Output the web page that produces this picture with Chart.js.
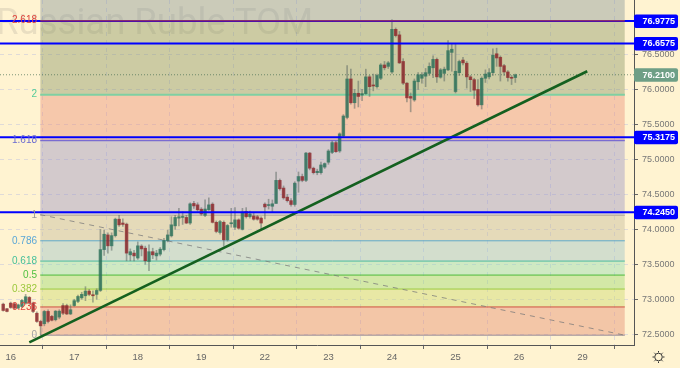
<!DOCTYPE html>
<html><head><meta charset="utf-8">
<style>html,body{margin:0;padding:0;background:#FFF3D1;overflow:hidden}canvas{display:block}</style>
<script src="https://cdn.jsdelivr.net/npm/chart.js@4"></script></head>
<body><canvas id="c" width="680" height="368"></canvas>
<script>
const firstSlot = -2;
const opens = [72.93,72.864,72.945,72.935,72.874,72.897,72.945,73.026,72.945,72.80,72.683,72.65,72.826,72.755,72.707,72.745,72.91,72.91,72.79,72.91,72.97,73.02,73.05,73.117,73.065,73.07,73.126,73.71,73.92,73.764,73.91,74.145,74.09,74.074,73.635,73.66,73.59,73.76,73.73,73.54,73.68,73.62,73.645,73.71,73.84,73.907,74.05,74.16,74.17,74.17,74.09,74.37,74.35,74.288,74.2,74.28,74.36,74.10,73.955,74.10,73.85,74.08,74.03,74.135,74.0,74.255,74.18,74.19,74.18,74.16,74.36,74.34,74.33,74.37,74.70,74.59,74.46,74.41,74.355,74.69,74.755,74.70,75.09,74.874,74.81,74.81,74.89,74.96,75.1,75.24,75.12,75.336,75.60,76.15,75.81,75.945,75.92,75.94,76.18,76.06,76.04,76.16,76.35,76.33,76.25,76.86,76.78,76.40,76.09,75.90,75.85,76.11,76.16,76.19,76.23,76.31,76.43,76.175,76.23,76.28,76.53,75.97,76.24,76.42,76.375,76.18,76.14,76.0,75.78,76.16,76.18,76.24,76.51,76.46,76.34,76.25,76.17,76.17];
const highs = [72.945,72.87,72.96,72.95,72.93,73.0,73.07,73.04,72.96,72.82,72.70,72.84,72.85,72.77,72.84,72.85,72.94,72.93,72.92,73.0,73.06,73.1,73.18,73.14,73.12,73.15,74.0,73.99,73.95,73.95,74.16,74.2,74.15,74.09,73.72,73.7,73.82,73.78,73.76,73.78,73.73,73.7,73.74,73.87,73.99,74.18,74.2,74.3,74.25,74.2,74.38,74.40,74.38,74.31,74.42,74.45,74.38,74.12,74.13,74.12,74.07,74.30,74.31,74.15,74.3,74.31,74.26,74.23,74.2,74.18,74.38,74.43,74.42,74.82,74.72,74.62,74.5,74.44,74.68,74.82,74.79,75.1,75.1,74.89,74.86,74.96,74.95,75.14,75.26,75.26,75.38,75.64,76.34,76.29,76.0,76.12,76.0,76.29,76.2,76.22,76.22,76.37,76.4,76.4,77.0,76.88,76.83,76.44,76.1,75.95,76.15,76.24,76.24,76.3,76.38,76.48,76.45,76.3,76.32,76.7,76.65,76.66,76.42,76.46,76.4,76.2,76.16,76.14,76.18,76.28,76.3,76.58,76.59,76.48,76.36,76.27,76.2,76.22];
const lows = [72.83,72.82,72.87,72.86,72.865,72.88,72.93,72.93,72.81,72.67,72.49,72.62,72.66,72.69,72.69,72.72,72.78,72.78,72.78,72.90,72.95,73.0,72.98,73.05,72.96,73.0,73.11,73.626,73.66,73.70,73.89,74.04,74.04,73.55,73.55,73.55,73.57,73.62,73.5,73.41,73.58,73.56,73.62,73.69,73.82,73.89,74.0,74.05,74.07,74.08,74.07,74.3,74.26,74.2,74.18,74.27,74.09,73.95,73.93,73.76,73.83,74.03,74.0,74.0,73.99,74.16,74.16,74.13,74.13,74.01,74.15,74.29,74.24,74.37,74.56,74.43,74.39,74.33,74.33,74.53,74.68,74.68,74.85,74.79,74.78,74.79,74.87,74.93,75.08,75.1,75.1,75.32,75.58,75.79,75.73,75.75,75.84,75.93,75.9,75.98,76.02,76.14,76.28,76.3,76.23,76.75,76.37,76.07,75.82,75.68,75.83,76.0,76.09,76.04,76.2,76.17,76.1,76.16,76.12,76.27,76.26,75.95,76.2,76.35,76.02,75.97,75.87,75.76,75.72,76.1,76.15,76.2,76.33,76.12,76.2,76.12,76.07,76.1];
const closes = [72.84,72.826,72.883,72.874,72.92,72.983,73.036,72.945,72.826,72.683,72.62,72.826,72.683,72.70,72.83,72.83,72.80,72.79,72.85,72.98,73.04,73.07,73.117,73.07,73.05,73.126,73.71,73.93,73.764,73.91,74.145,74.064,74.07,73.66,73.68,73.62,73.764,73.72,73.55,73.68,73.635,73.66,73.716,73.84,73.92,74.064,74.17,74.18,74.18,74.09,74.364,74.335,74.28,74.22,74.29,74.35,74.10,73.97,74.11,73.85,74.055,74.09,74.135,74.016,74.245,74.18,74.22,74.145,74.145,74.09,74.32,74.345,74.365,74.70,74.58,74.45,74.41,74.355,74.66,74.755,74.70,75.09,74.874,74.81,74.83,74.92,74.94,75.12,75.24,75.11,75.365,75.62,76.15,75.81,75.945,75.90,75.94,76.18,76.04,76.05,76.2,76.35,76.31,76.38,76.86,76.77,76.38,76.09,75.88,75.875,76.12,76.21,76.21,76.24,76.33,76.43,76.18,76.28,76.29,76.555,76.575,76.26,76.40,76.38,76.18,76.14,75.99,75.78,76.16,76.22,76.24,76.49,76.45,76.33,76.25,76.17,76.16,76.21];

const dayTickSlots = [0,17,34,51,68,85,102,119,136,153];
const dayTickLabels = ["16","17","18","19","22","23","24","25","26","29"];
const priceTicks = [72.5,73,73.5,74,74.5,75,75.5,76,76.5];

const fibValues = [76.98,75.925,75.27,74.2,73.836,73.546,73.346,73.146,72.89,72.486];
const fibLabels = ["2.618","2","1.618","1","0.786","0.618","0.5","0.382","0.236","0"];
const fibLineColors = ["#C62828","#7FD0A2","#7A6CD0","#B8AD9A","#5FA9CB","#4DB89F","#4DBB3A","#9CCB40","#CF5040","#9A8F9A"];
const fibTextColors = ["#E0443C","#55CC99","#6A6AD0","#9A9A9A","#5BA7D6","#45BF9A","#50C040","#9CC83C","#E0443C","#A0A0A0"];
const fibLineWidths = [1,2,1.5,1,1,1,1,1,1,1];
const bandColors = ["rgba(125,143,149,.4)","rgba(127,143,94,.4)","rgba(232,136,114,.4)","rgba(145,140,197,.4)","rgba(190,181,151,.4)","rgba(145,190,201,.4)","rgba(135,218,176,.4)","rgba(145,215,106,.4)","rgba(197,215,99,.4)","rgba(225,131,104,.4)"];
const fibStartSlot = 7.9, fibEndSlot = 164.3;

const blueLevels = [76.9775,76.6575,75.3175,74.245];
const blueLabels = ["76.9775","76.6575","75.3175","74.2450"];
const lastPrice = 76.21;
const lastLabel = "76.2100";
const trendX = [4.98,154.25];
const trendY = [72.383,76.26];
const diagX = [7.9,164.3];
const diagY = [74.21,72.486];
const xMin = -2.86, xMax = 166.75, yMin = 72.346, yMax = 77.279;
const watermark = "Russian Ruble TOM";
const FONT = '"Liberation Sans", Arial, sans-serif';

const slots = opens.map((_, i) => i + firstSlot);
const ds = [];
function line(xs, ys, o) {
  return Object.assign({type:'line', data: xs.map((x,i)=>({x, y: ys[i]})), pointRadius:0, tension:0, fill:false, borderWidth:1}, o);
}
fibValues.forEach((v,i) => {
  const target = i === 0 ? yMax : fibValues[i-1];
  ds.push(line([fibStartSlot,fibEndSlot],[v,v],{
    borderColor: fibLineColors[i], borderWidth: fibLineWidths[i],
    backgroundColor: bandColors[i], fill:{target:{value:target}}, order: i===0 ? 1 : 10
  }));
});
ds.push(line(diagX,diagY,{borderColor:'rgba(120,120,120,.75)',borderDash:[5,5],order:9}));
ds.push(line([xMin,xMax],[lastPrice,lastPrice],{borderColor:'rgba(70,110,80,.7)',borderDash:[1,2],order:8}));
ds.push({type:'bar',data:slots.map((x,i)=>({x,y:[lows[i],highs[i]]})),barThickness:1,grouped:false,
  backgroundColor:'rgba(85,100,95,.5)',order:6});
ds.push({type:'bar',data:slots.map((x,i)=>({x,y:[opens[i],closes[i]]})),barThickness:2.8,grouped:false,minBarLength:1,
  backgroundColor:slots.map((_,i)=>closes[i]>=opens[i]?'rgba(40,112,88,.76)':'rgba(140,30,35,.76)'),order:5});
ds.push(line(trendX,trendY,{borderColor:'#14601F',borderWidth:2.6,order:3}));
blueLevels.forEach(v=>ds.push(line([xMin,xMax],[v,v],{borderColor:'#0000FF',borderWidth:2,order:2})));

const overlay = {
  id:'overlay',
  beforeDatasetsDraw(ch){
    const c=ch.ctx; c.save();
    c.font='36.5px Roboto, '+FONT; c.fillStyle='rgba(110,110,110,.15)'; c.textBaseline='alphabetic'; c.textAlign='right';
    c.fillText(watermark,313,34);
    c.restore();
  },
  afterDatasetsDraw(ch){
    const c=ch.ctx, y=ch.scales.y; c.save();
    c.textBaseline='middle'; c.textAlign='right'; c.font='10px '+FONT;
    fibLabels.forEach((t,i)=>{c.fillStyle=fibTextColors[i];c.fillText(t,37,y.getPixelForValue(fibValues[i])-(i===0?1:0));});
    function tag(v,t,col){
      const py=y.getPixelForValue(v);
      c.fillStyle=col; c.beginPath(); c.roundRect(634,py-6.5,44,13.5,2); c.fill();
      c.fillStyle='#fff'; c.textAlign='left'; c.font='bold 9px '+FONT; c.fillText(t,642.5,py+.5);
    }
    blueLevels.forEach((v,i)=>tag(v,blueLabels[i],'#0000FF'));
    tag(lastPrice,lastLabel,'#6E9F86');
    // settings icon
    c.strokeStyle='#333'; c.lineWidth=1;
    c.beginPath(); c.arc(658.5,357,3.8,0,Math.PI*2); c.stroke();
    for(let a=0;a<8;a++){const t=a*Math.PI/4;c.beginPath();c.moveTo(658.5+Math.cos(t)*4.5,357+Math.sin(t)*4.5);c.lineTo(658.5+Math.cos(t)*6,357+Math.sin(t)*6);c.stroke();}
    c.restore();
  }
};

new Chart(document.getElementById('c'),{
  data:{datasets:ds},
  plugins:[overlay],
  options:{
    responsive:false,animation:false,
    layout:{padding:0},
    plugins:{legend:{display:false},title:{display:false},tooltip:{enabled:false}},
    scales:{
      x:{type:'linear',min:xMin,max:xMax,offset:false,
        afterBuildTicks(s){s.ticks=dayTickSlots.map(v=>({value:v}));},
        afterFit(s){s.height=23;s.paddingLeft=0;s.paddingRight=0;},
        grid:{color:'rgba(170,180,230,.38)',tickColor:'#666',tickLength:4,tickBorderDash:[],drawOnChartArea:true},
        border:{color:'#555',width:1,dash:[4,4]},
        ticks:{autoSkip:false,maxRotation:0,padding:3,color:'#666',font:{family:FONT,size:9.5},
          callback(v){const i=dayTickSlots.indexOf(v);return i<0?'':dayTickLabels[i];}}
      },
      y:{type:'linear',position:'right',min:yMin,max:yMax,
        afterBuildTicks(s){s.ticks=priceTicks.map(v=>({value:v}));},
        afterFit(s){s.width=46;s.paddingTop=0;s.paddingBottom=0;},
        grid:{color:'rgba(170,180,230,.38)',tickColor:'#666',tickLength:4,tickBorderDash:[]},
        border:{color:'#555',width:1,dash:[4,4]},
        ticks:{autoSkip:false,padding:4,color:'#777',font:{family:FONT,size:9},align:'center',
          callback(v){return Number(v).toFixed(4);}}
      }
    }
  }
});
</script></body></html>
